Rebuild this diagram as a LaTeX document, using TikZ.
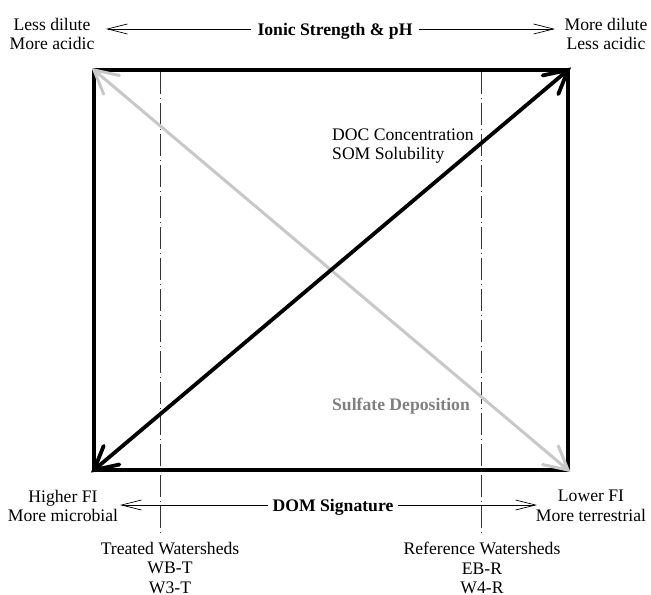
\documentclass[tikz,border=0pt]{standalone}
\usepackage{fontspec}
\setmainfont{Liberation Serif}
\usetikzlibrary{arrows.meta,calc}
\definecolor{lightgr}{HTML}{C8C8C8}
\definecolor{textgr}{HTML}{808080}
\begin{document}
\begin{tikzpicture}[x=1bp,y=-1bp,
  lbl/.style={font=\fontsize{17.7}{19.5}\selectfont, align=center, inner sep=0pt},
  bold/.style={lbl, font=\fontsize{17.7}{19.5}\selectfont\bfseries},
  axisarrow/.style={line width=0.7bp, -{Straight Barb[length=20bp,width=10bp,line width=0.7bp]}},
  frame/.style={line width=4.5bp, line join=round},
  diagblack/.style={line width=3.8bp, black, line cap=round, line join=miter},
  diaggray/.style={line width=3bp, lightgr, line cap=round, line join=miter},
  dashline/.style={line width=0.6bp, dash pattern=on 22bp off 4bp on 1bp off 4bp, black!80}]
\useasboundingbox (0,0) rectangle (651,595);
% corners
\coordinate (tl) at (94,70);
\coordinate (tr) at (568,70);
\coordinate (br) at (568,470);
\coordinate (bl) at (94,470);
% dashed lines
\coordinate (d1t) at (160,72);
\coordinate (d1b) at (160,533);
\coordinate (d2t) at (481,72);
\coordinate (d2b) at (481,533);
\draw[dashline] (d1t) -- (d1b);
\draw[dashline] (d2t) -- (d2b);
% frame
\draw[frame] (tl) rectangle (br);
% gray diagonal with heads
\draw[diaggray] (tl) -- (br);
\draw[diaggray] ($(tl)!26bp!28:(br)$) -- (tl) -- ($(tl)!26bp!-28:(br)$);
\draw[diaggray] ($(br)!26bp!28:(tl)$) -- (br) -- ($(br)!26bp!-28:(tl)$);
% black diagonal with heads
\draw[diagblack] (bl) -- (tr);
\draw[diagblack] ($(tr)!26bp!28:(bl)$) -- (tr) -- ($(tr)!26bp!-28:(bl)$);
\draw[diagblack] ($(bl)!26bp!28:(tr)$) -- (bl) -- ($(bl)!26bp!-28:(tr)$);
% top labels
\node[lbl] (lt) at (52,34) {Less dilute\\More acidic};
\node[lbl] (rt) at (606,34) {More dilute\\Less acidic};
\node[bold] (ionic) at (335,31) {Ionic Strength \& pH};
\coordinate (ionL) at (106,29);
\coordinate (ionR) at (555,29);
\draw[axisarrow] ([xshift=-6bp]ionic.west |- ionL) -- (ionL);
\draw[axisarrow] ([xshift=6bp]ionic.east |- ionR) -- (ionR);
% bottom labels
\node[lbl] (lb) at (63,506) {Higher FI\\More microbial};
\node[lbl] (rb) at (591,506) {Lower FI\\More terrestrial};
\node[bold] (dom) at (333,507) {DOM Signature};
\coordinate (domL) at (120,505);
\coordinate (domR) at (537,505);
\draw[axisarrow] ([xshift=-4bp]dom.west |- domL) -- (domL);
\draw[axisarrow] ([xshift=4bp]dom.east |- domR) -- (domR);
% inner labels
\node[lbl, align=left, anchor=west] (doc) at (332,146) {DOC Concentration\\SOM Solubility};
\node[bold, text=textgr] (sulf) at (401,406) {Sulfate Deposition};
% watershed labels
\node[lbl, anchor=north] (treat) at (170,542) {Treated Watersheds\\WB-T\\W3-T};
\node[lbl, anchor=north] (ref) at (482,542) {Reference Watersheds\\EB-R\\W4-R};
\end{tikzpicture}
\end{document}
